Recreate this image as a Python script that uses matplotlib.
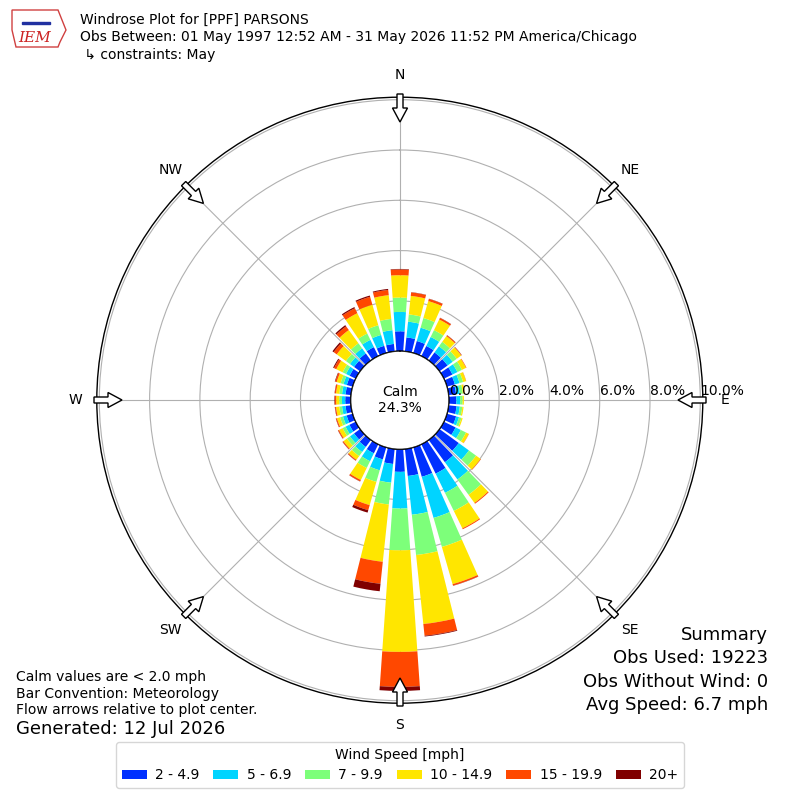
import numpy as np
import matplotlib
matplotlib.use('Agg')
import matplotlib.pyplot as plt
from matplotlib.patches import Circle, FancyArrow, Patch, Polygon
from matplotlib.transforms import offset_copy

# wind directions (deg, meteorological) and cumulative percent per speed bin
directions = np.arange(0, 360, 10)
cum_pct = [
    [0.79, 1.56, 2.13, 3.02, 3.25, 3.27],  # 0
    [0.56, 1.19, 1.48, 2.22, 2.36, 2.37],  # 10
    [0.50, 1.05, 1.45, 2.15, 2.24, 2.25],  # 20
    [0.45, 0.85, 1.15, 1.62, 1.69, 1.70],  # 30
    [0.40, 0.70, 0.92, 1.20, 1.24, 1.25],  # 40
    [0.40, 0.65, 0.85, 1.07, 1.09, 1.10],  # 50
    [0.38, 0.60, 0.80, 0.98, 1.00, 1.00],  # 60
    [0.33, 0.52, 0.67, 0.79, 0.80, 0.80],  # 70
    [0.30, 0.45, 0.57, 0.64, 0.65, 0.65],  # 80
    [0.30, 0.45, 0.55, 0.60, 0.60, 0.60],  # 90
    [0.32, 0.45, 0.55, 0.60, 0.60, 0.60],  # 100
    [0.38, 0.50, 0.60, 0.65, 0.65, 0.65],  # 110
    [0.52, 0.75, 0.98, 1.10, 1.11, 1.11],  # 120
    [0.95, 1.45, 1.80, 2.02, 2.04, 2.04],  # 130
    [1.10, 1.95, 2.70, 3.10, 3.14, 3.14],  # 140
    [1.30, 2.15, 2.95, 3.72, 3.76, 3.76],  # 150
    [1.22, 2.92, 4.12, 5.66, 5.72, 5.73],  # 160
    [1.08, 2.63, 4.24, 7.00, 7.47, 7.50],  # 170
    [0.90, 2.36, 4.02, 8.06, 9.45, 9.61],  # 180
    [0.60, 1.35, 2.22, 4.51, 5.39, 5.69],  # 190
    [0.50, 0.95, 1.43, 2.39, 2.60, 2.70],  # 200
    [0.40, 0.75, 1.05, 1.58, 1.64, 1.65],  # 210
    [0.35, 0.60, 0.80, 0.98, 1.02, 1.03],  # 220
    [0.30, 0.50, 0.65, 0.82, 0.86, 0.87],  # 230
    [0.28, 0.45, 0.58, 0.74, 0.78, 0.79],  # 240
    [0.25, 0.40, 0.52, 0.65, 0.69, 0.70],  # 250
    [0.22, 0.36, 0.47, 0.60, 0.64, 0.65],  # 260
    [0.22, 0.35, 0.46, 0.58, 0.63, 0.65],  # 270
    [0.22, 0.36, 0.47, 0.60, 0.65, 0.66],  # 280
    [0.24, 0.38, 0.50, 0.66, 0.72, 0.74],  # 290
    [0.27, 0.43, 0.58, 0.86, 0.96, 1.00],  # 300
    [0.30, 0.50, 0.70, 1.15, 1.30, 1.36],  # 310
    [0.35, 0.60, 0.85, 1.50, 1.68, 1.74],  # 320
    [0.40, 0.72, 1.00, 1.90, 2.12, 2.17],  # 330
    [0.30, 0.75, 1.15, 2.00, 2.33, 2.38],  # 340
    [0.30, 0.85, 1.30, 2.25, 2.46, 2.50],  # 350
]
speed_labels = ['2 - 4.9', '5 - 6.9', '7 - 9.9', '10 - 14.9', '15 - 19.9', '20+']
speed_colors = ['#0030ff', '#00d4ff', '#7dff7a', '#ffe600', '#ff4800', '#800000']
rticks = [0, 2, 4, 6, 8, 10]
compass = ['N', 'NE', 'E', 'SE', 'S', 'SW', 'W', 'NW']
calm_pct = 24.3

fig = plt.figure(figsize=(8, 8), dpi=100)
ax = fig.add_axes([0.121, 0.121, 0.7575, 0.7575], projection='polar')
ax.set_theta_zero_location('N')
ax.set_theta_direction(-1)

cum = np.array(cum_pct)
theta = np.radians(directions)
prev = np.zeros(len(directions))
for i, col in enumerate(speed_colors):
    ax.bar(theta, cum[:, i] - prev, bottom=prev, width=np.radians(8),
           color=col, linewidth=0, zorder=2)
    prev = cum[:, i]

ax.set_ylim(0, 10.1)
ax.set_rorigin(-1.95)
ax.set_yticks(rticks)
ax.set_yticklabels([])
ax.set_xticks(np.radians(np.arange(0, 360, 45)))
ax.set_xticklabels([])
ax.grid(True, color='#b0b0b0', linewidth=0.8)
ax.set_axisbelow(True)
ax.spines['polar'].set_linewidth(1.0)

# radial labels along the east axis, just above the line
lab_tr = offset_copy(ax.transData, fig=fig, x=0, y=2, units='dots')
for r in rticks:
    ax.text(np.pi / 2, r, '%.1f%%' % r, transform=lab_tr, ha='left',
            va='bottom', fontsize=10, zorder=7, clip_on=False)

# calm circle
ax.add_patch(Circle((0.5, 0.5), 49 / 606, transform=ax.transAxes,
                    facecolor='white', edgecolor='black', lw=1, zorder=5))
ax.text(0.5, 0.5, 'Calm\n%.1f%%' % calm_pct, transform=ax.transAxes,
        ha='center', va='center', fontsize=10, zorder=6)

# compass labels and flow arrows
for k, lab in enumerate(compass):
    b = np.radians(k * 45)
    sx, sy = np.sin(b), np.cos(b)
    fig.text(0.5 + 325 * sx / 800, 0.5 + 325 * sy / 800, lab,
             ha='center', va='center', fontsize=10)
    fig.add_artist(FancyArrow(0.5 + 306 * sx / 800, 0.5 + 306 * sy / 800,
                              -28 * sx / 800, -28 * sy / 800,
                              width=6 / 800, head_width=15 / 800,
                              head_length=14 / 800, length_includes_head=True,
                              transform=fig.transFigure, facecolor='white',
                              edgecolor='black', lw=1, zorder=10))

# header
fig.text(80 / 800, 1 - 13 / 800,
         'Windrose Plot for [PPF] PARSONS\n'
         'Obs Between: 01 May 1997 12:52 AM - 31 May 2026 11:52 PM America/Chicago\n'
         ' ↳ constraints: May',
         ha='left', va='top', fontsize=10, linespacing=1.31)

# rough IEM logo
iowa = [(12, 10), (58, 10), (62, 20), (66, 30), (60, 42), (58, 47), (16, 47), (12, 30)]
fig.add_artist(Polygon([(x / 800, 1 - y / 800) for x, y in iowa], closed=True,
                       transform=fig.transFigure, facecolor='none',
                       edgecolor='#d04040', lw=1))
fig.text(35 / 800, 1 - 38 / 800, 'IEM', ha='center', va='center', fontsize=11,
         color='#cc2222', family='DejaVu Serif', style='italic')
fig.add_artist(Polygon([(22 / 800, 1 - 22 / 800), (50 / 800, 1 - 22 / 800),
                        (50 / 800, 1 - 24 / 800), (22 / 800, 1 - 24 / 800)],
                       transform=fig.transFigure, facecolor='#2030a0',
                       edgecolor='#2030a0'))

fig.text(16 / 800, 1 - 670 / 800,
         'Calm values are < 2.0 mph\nBar Convention: Meteorology\n'
         'Flow arrows relative to plot center.',
         ha='left', va='top', fontsize=10, linespacing=1.24)
fig.text(16 / 800, 1 - 729 / 800, 'Generated: 12 Jul 2026',
         ha='left', va='center', fontsize=13)

fig.text(768 / 800, 1 - 626 / 800,
         'Summary\nObs Used: 19223\nObs Without Wind: 0\nAvg Speed: 6.7 mph',
         ha='right', va='top', fontsize=13, linespacing=1.38)

handles = [Patch(facecolor=c, label=l) for c, l in zip(speed_colors, speed_labels)]
fig.legend(handles=handles, loc='lower center', bbox_to_anchor=(0.5, 0.015),
           borderaxespad=0, ncol=6, title='Wind Speed [mph]', fontsize=10,
           title_fontsize=10, handlelength=1.8, handletextpad=0.6,
           columnspacing=1.0)

fig.savefig('out.png', dpi=100)
